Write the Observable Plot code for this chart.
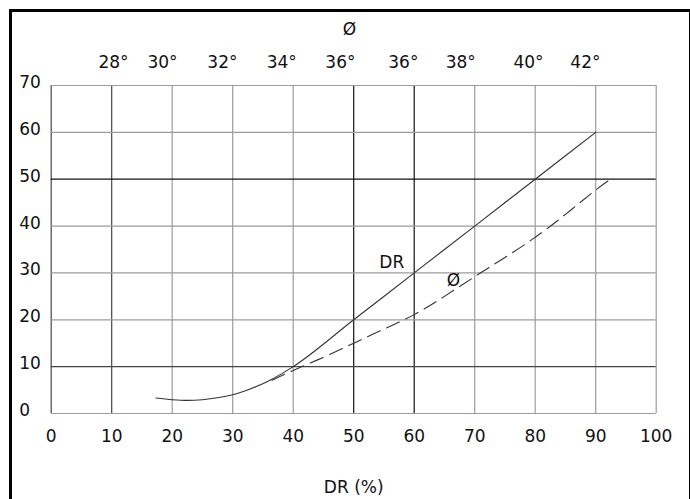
<!DOCTYPE html>
<html>
<head>
<meta charset="utf-8">
<script src="https://cdn.jsdelivr.net/npm/d3@7"></script>
<script src="https://cdn.jsdelivr.net/npm/@observablehq/plot@0.6"></script>
<style>
  html, body { margin: 0; padding: 0; background: #fff; }
  #wrap { position: relative; width: 690px; height: 499px; overflow: hidden; }
  #border { position: absolute; left: 9px; top: 9px; width: 677px; height: 500px;
            border-left: 3px solid #000; border-top: 3px solid #000; border-right: 3px solid #000; pointer-events: none; }
</style>
</head>
<body>
<div id="wrap"><div id="chart"></div><div id="border"></div></div>
<script>
// ---- data ----
const xTicks = [0, 10, 20, 30, 40, 50, 60, 70, 80, 90, 100];
const yTicks = [0, 10, 20, 30, 40, 50, 60, 70];
// solid DR curve (x = DR %, y = value)
const drX = [17.3, 20, 22.5, 25, 27.5, 30, 32, 34, 36, 38, 40, 50, 60, 70, 80, 90];
const drY = [3.3, 2.95, 2.8, 2.95, 3.35, 4.0, 4.8, 5.8, 7.0, 8.4, 10, 20, 30, 40, 50, 60];
// dashed Ø curve
const phiX = [36.5, 40, 45, 50, 55, 60, 65, 70, 75, 80, 85, 90, 92.7];
const phiY = [7.1, 9.2, 12.0, 15.0, 18.0, 21.1, 25.0, 29.2, 33.3, 37.6, 42.5, 47.7, 50.2];
// top Ø axis labels and the DR values they sit over
const phiTickLabels = ["28°", "30°", "32°", "34°", "36°", "36°", "38°", "40°", "42°"];
const phiTickDR = [10.3, 18.4, 28.3, 38.1, 47.8, 58.2, 67.7, 78.9, 88.3];

const dr = drX.map((x, i) => ({x, y: drY[i]}));
const phi = phiX.map((x, i) => ({x, y: phiY[i]}));
const phiTicks = phiTickLabels.map((t, i) => ({t, x: phiTickDR[i]}));

const darkX = new Set([50, 60]);
const midX = new Set([0, 10]);
const darkY = new Set([50]);
const midY = new Set([10]);
const gx = v => darkX.has(v) ? "#111" : midX.has(v) ? "#444" : "#9c9c9c";
const gy = v => darkY.has(v) ? "#111" : midY.has(v) ? "#444" : "#9c9c9c";

const chart = Plot.plot({
  width: 690,
  height: 499,
  marginLeft: 50.7,
  marginRight: 34.3,
  marginTop: 85,
  marginBottom: 86,
  style: { fontFamily: "'DejaVu Sans', sans-serif", fontSize: "17px", color: "#111", background: "#fff" },
  x: { domain: [0, 100] },
  y: { domain: [0, 70] },
  marks: [
    Plot.ruleX(xTicks, { stroke: gx, strokeWidth: 1.2 }),
    Plot.ruleY(yTicks, { stroke: gy, strokeWidth: 1.2 }),
    Plot.axisX(xTicks, { tickSize: 0, tickPadding: 16, label: null, fontSize: 17 }),
    Plot.axisY(yTicks, { tickSize: 0, tickPadding: 32, textAnchor: "start", dy: -3, label: null, fontSize: 17 }),
    Plot.line(dr, { x: "x", y: "y", curve: "monotone-x", stroke: "#333", strokeWidth: 1.1 }),
    Plot.line(phi, { x: "x", y: "y", curve: "natural", stroke: "#333", strokeWidth: 1.1, strokeDasharray: "14,7" }),
    Plot.text(phiTicks, { x: "x", text: "t", frameAnchor: "top", lineAnchor: "middle", dy: -23, fontSize: 17, fill: "#111" }),
    Plot.text(["Ø"], { frameAnchor: "top", lineAnchor: "middle", x: [49.3], dy: -56, fontSize: 17, fill: "#111" }),
    Plot.text(["DR"], { x: [56.3], y: [32.3], fontSize: 17, fill: "#111" }),
    Plot.text(["Ø"], { x: [66.5], y: [28.4], fontSize: 17, fill: "#111" }),
    Plot.text(["DR (%)"], { frameAnchor: "bottom", lineAnchor: "middle", dy: 74, fontSize: 17, fill: "#111" })
  ]
});
document.getElementById("chart").appendChild(chart);
</script>
</body>
</html>
